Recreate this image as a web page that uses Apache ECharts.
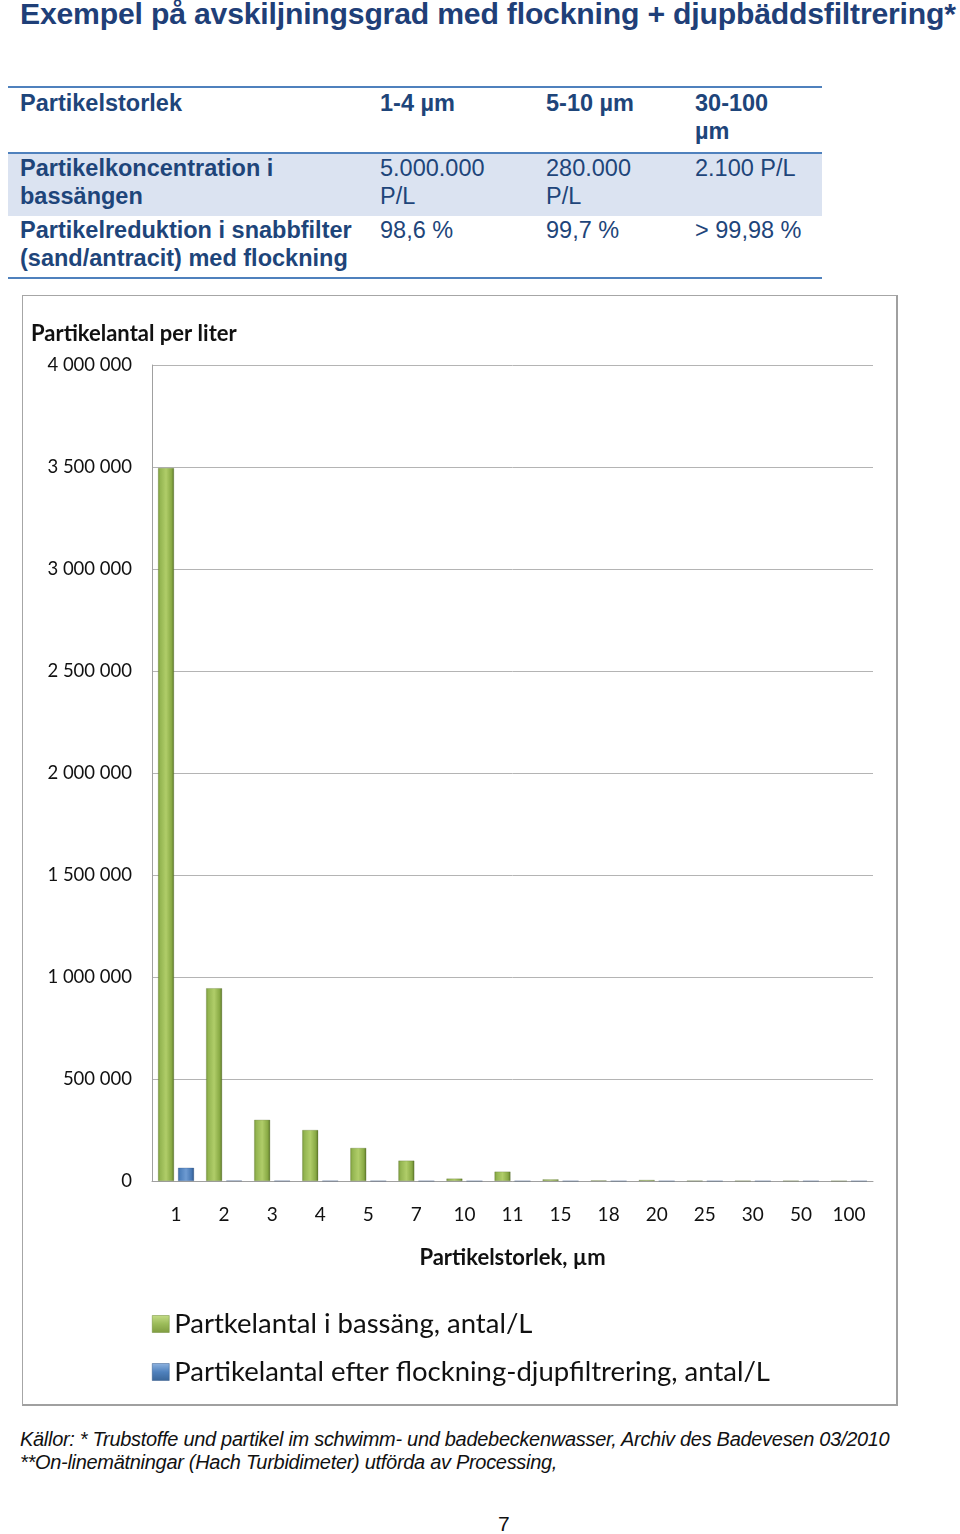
<!DOCTYPE html>
<html>
<head>
<meta charset="utf-8">
<script src="https://cdn.jsdelivr.net/npm/echarts@6/dist/echarts.min.js"></script>
<style>
  html, body { margin:0; padding:0; background:#fff; }
  body { width:960px; height:1534px; position:relative; overflow:hidden; font-family:"Liberation Sans", Arial, sans-serif; }
  #title { position:absolute; left:20px; top:-3px; font-weight:bold; font-size:30.2px; color:#1f3f78; white-space:nowrap; letter-spacing:-0.2px; }
  #tbl { position:absolute; left:8px; top:86px; width:814px; border-collapse:collapse; color:#1e457a; font-size:23.5px; line-height:28px; }
  #tbl td { vertical-align:top; padding:0 0 0 12px; }
  #tbl tr.h td { font-weight:bold; border-top:2px solid #4f81bd; border-bottom:2px solid #4f81bd; height:63px; padding-top:1px; }
  #tbl tr.s td { background:#dbe3f1; height:62px; padding-top:0px; }
  #tbl tr.l td { border-bottom:2px solid #4f81bd; height:61px; padding-top:0px; }
  #tbl td.c1 { font-weight:bold; width:348px; }
  #tbl td.c2 { width:154px; }
  #tbl td.c3 { width:137px; }
  #box { position:absolute; left:22px; top:295px; width:876px; height:1111px; box-sizing:border-box; border:1px solid #a6a6a6; border-right:2px solid #a0a0a0; border-bottom:2px solid #a0a0a0; }
  #chart { position:absolute; left:0; top:0; width:873px; height:1108px; }
  .foot { position:absolute; left:20px; font-style:italic; font-size:20px; color:#111; white-space:nowrap; letter-spacing:-0.3px; }
  #pg { position:absolute; left:498px; top:1512px; font-size:21px; color:#111; }
</style>
</head>
<body>
<div id="title">Exempel på avskiljningsgrad med flockning + djupbäddsfiltrering*</div>
<table id="tbl">
  <tr class="h"><td class="c1">Partikelstorlek</td><td class="c2">1-4 µm</td><td class="c3">5-10 µm</td><td>30-100<br>µm</td></tr>
  <tr class="s"><td class="c1">Partikelkoncentration i<br>bassängen</td><td class="c2">5.000.000<br>P/L</td><td class="c3">280.000<br>P/L</td><td>2.100 P/L</td></tr>
  <tr class="l"><td class="c1">Partikelreduktion i snabbfilter<br>(sand/antracit) med flockning</td><td class="c2">98,6 %</td><td class="c3">99,7 %</td><td>&gt; 99,98 %</td></tr>
</table>
<div id="box"><div id="chart"></div></div>
<div class="foot" style="top:1428px;">Källor: * Trubstoffe und partikel im schwimm- und badebeckenwasser, Archiv des Badevesen 03/2010</div>
<div class="foot" style="top:1451px;">**On-linemätningar (Hach Turbidimeter) utförda av Processing,</div>
<div id="pg">7</div>
<script>
const categories = ['1','2','3','4','5','7','10','11','15','18','20','25','30','50','100'];
const seriesNames = ['Partkelantal i bassäng, antal/L', 'Partikelantal efter flockning-djupfiltrering, antal/L'];
const poolCounts = [3495000, 945000, 300000, 250000, 162000, 100000, 12000, 46000, 8000, 3000, 5000, 1500, 1000, 800, 300];
const filteredCounts = [65000, 2500, 1200, 800, 500, 300, 60, 150, 40, 20, 20, 10, 5, 3, 1];
const yTicks = { min: 0, max: 4000000, interval: 500000 };
const xAxisTitle = 'Partikelstorlek, µm';
const yAxisTitle = 'Partikelantal per liter';

const greenFill = new echarts.graphic.LinearGradient(0, 0, 1, 0, [
  { offset: 0, color: '#7a9a3a' }, { offset: 0.15, color: '#95b652' },
  { offset: 0.5, color: '#b0cd69' }, { offset: 0.85, color: '#88a944' }, { offset: 1, color: '#5a7428' }
]);
const blueFill = new echarts.graphic.LinearGradient(0, 0, 1, 0, [
  { offset: 0, color: '#3d68a0' }, { offset: 0.15, color: '#4f81bd' },
  { offset: 0.5, color: '#6e9bd2' }, { offset: 0.85, color: '#4676b2' }, { offset: 1, color: '#2d5386' }
]);
const legendGreen = new echarts.graphic.LinearGradient(0, 0, 0, 1, [
  { offset: 0, color: '#c4dc86' }, { offset: 0.5, color: '#9bbb59' }, { offset: 1, color: '#7f9c40' }
]);
const legendBlue = new echarts.graphic.LinearGradient(0, 0, 0, 1, [
  { offset: 0, color: '#8eb3e0' }, { offset: 0.5, color: '#4f81bd' }, { offset: 1, color: '#3a6699' }
]);

const chart = echarts.init(document.getElementById('chart'), null, { renderer: 'canvas' });
const font = 'Lato, "Open Sans", sans-serif';
chart.setOption({
  animation: false,
  textStyle: { fontFamily: font },
  graphic: [{
    type: 'text', left: 8, top: 27,
    style: { text: yAxisTitle, font: 'bold 22px ' + font, fill: '#111' }
  }],
  grid: { left: 129, top: 69, width: 721, height: 816, containLabel: false },
  legend: {
    orient: 'vertical', left: 129, top: 1014, padding: 0,
    icon: 'rect',
    itemWidth: 17, itemHeight: 17, itemGap: 20, itemTextGap: 8,
    textStyle: { fontSize: 27.5, color: '#111', fontFamily: font },
    data: seriesNames.map((n, i) => ({ name: n, itemStyle: { color: i === 0 ? legendGreen : legendBlue, borderWidth: 0.5, borderColor: i === 0 ? '#6d8a33' : '#33598a' } }))
  },
  xAxis: {
    type: 'category', data: categories,
    axisLine: { lineStyle: { color: '#a0a0a0', width: 1 } },
    axisTick: { show: false },
    axisLabel: { color: '#111', fontSize: 19, margin: 24, fontFamily: font },
    name: xAxisTitle, nameLocation: 'middle', nameGap: 66,
    nameTextStyle: { fontWeight: 'bold', fontSize: 22, color: '#111', fontFamily: font }
  },
  yAxis: {
    type: 'value', min: yTicks.min, max: yTicks.max, interval: yTicks.interval,
    axisLine: { show: true, lineStyle: { color: '#a0a0a0', width: 1 } },
    axisTick: { show: false },
    splitLine: { lineStyle: { color: '#b4b4b4', width: 1 } },
    axisLabel: {
      color: '#111', fontSize: 18.5, margin: 20, fontFamily: font,
      formatter: v => String(v).replace(/\B(?=(\d{3})+(?!\d))/g, ' ')
    }
  },
  series: [
    { name: seriesNames[0], type: 'bar', data: poolCounts, barWidth: 16, barGap: '25%',
      itemStyle: { color: greenFill, borderColor: 'rgba(80,100,40,0.5)', borderWidth: 0.5 } },
    { name: seriesNames[1], type: 'bar', data: filteredCounts, barWidth: 16, barGap: '25%',
      itemStyle: { color: blueFill, borderColor: 'rgba(40,70,120,0.5)', borderWidth: 0.5 } }
  ]
});
</script>
</body>
</html>
